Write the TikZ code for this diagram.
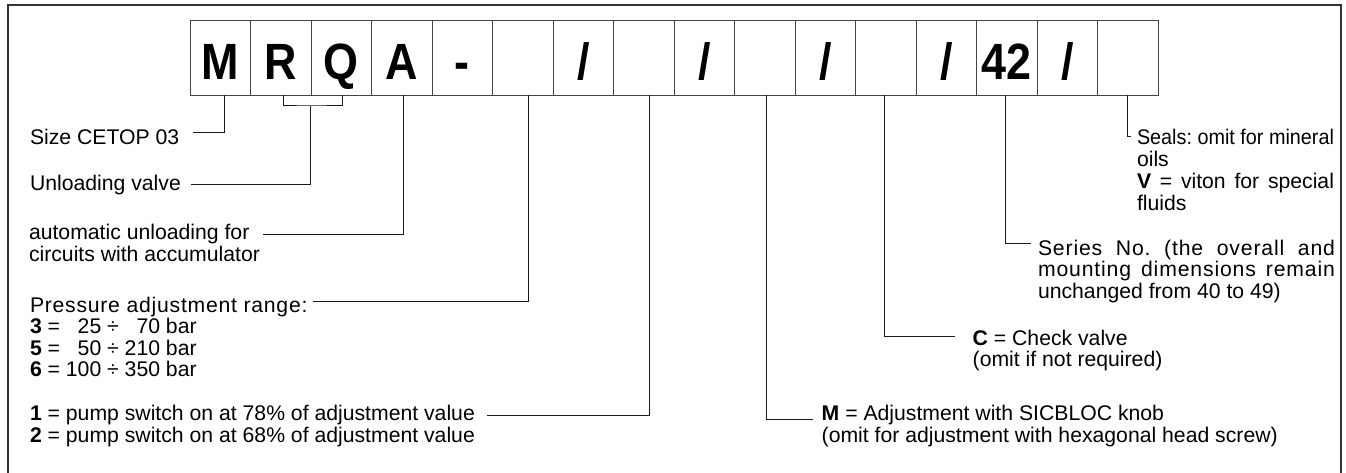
\documentclass[tikz,border=0pt]{standalone}
\usepackage{fontspec}
\usepackage{graphicx}
\setmainfont{Liberation Sans}
\frenchspacing
\definecolor{framecol}{HTML}{333333}
\definecolor{boxcol}{HTML}{444444}
\definecolor{linecol}{HTML}{1A1A1A}
\begin{document}
\begin{tikzpicture}[x=1pt,y=-1pt,
  codebox/.style={draw=boxcol,line width=0.9pt,minimum width=60.5pt,minimum height=75pt,
    inner sep=0pt,outer sep=0pt,text height=45pt,text depth=0pt,
    font=\fontsize{51}{51}\selectfont\bfseries},
  lbl/.style={anchor=base west,inner sep=0pt,outer sep=0pt,font=\fontsize{21.2}{21.7}\selectfont},
  conn/.style={draw=linecol,line width=1pt},
  frame/.style={draw=framecol,line width=1.4pt}]
\useasboundingbox (0,0) rectangle (1346,473);
\clip (0,0) rectangle (1346,473);
\fill[white] (0,0) rectangle (1346,473);
% outer frame (bottom edge lies outside the picture)
\draw[frame] (8,490) -- (8,5) -- (1341,5) -- (1341,490);
% code boxes
\foreach \t [count=\i] in {M,R,Q,A,-,{},/,{},/,{},/,{},/,42,/,{}}{
  \node[codebox] (b\i) at ({220.25+60.5*(\i-1)},57.5) {\scalebox{0.88}[1]{\t}};
}
% labels, left side
\node[lbl] (size) at (30,145) {Size CETOP 03};
\node[lbl] (unl) at (30,191) {Unloading valve};
\node[lbl] (aut1) at (29,239.3) {automatic unloading for};
\node[lbl] (aut2) at (29,261) {circuits with accumulator};
\node[lbl] (pr0) at (30,312) {{\addfontfeature{LetterSpace=3.5}Pressure adjustment range:}};
\node[lbl] (pr3) at (30,333.5) {\textbf{3} = \phantom{1}25 ÷ \phantom{3}70 bar};
\node[lbl] (pr5) at (30,355) {\textbf{5} = \phantom{1}50 ÷ 210 bar};
\node[lbl] (pr6) at (30,376.6) {\textbf{6} = 100 ÷ 350 bar};
\node[lbl] (p1) at (30,420.3) {\textbf{1} = pump switch on at 78\% of adjustment value};
\node[lbl] (p2) at (30,442) {\textbf{2} = pump switch on at 68\% of adjustment value};
% labels, right side
\node[lbl] (m1) at (821.7,420.8) {\textbf{M} = Adjustment with SICBLOC knob};
\node[lbl] (m2) at (821.7,442) {(omit for adjustment with hexagonal head screw)};
\node[lbl] (c1) at (972.7,345) {\textbf{C} = Check valve};
\node[lbl] (c2) at (972.7,366.7) {(omit if not required)};
\node[lbl] (s1) at (1038,255) {{\addfontfeature{LetterSpace=4}\makebox[297pt][s]{Series No. (the overall and}}};
\node[lbl] (s2) at (1038,276.7) {{\addfontfeature{LetterSpace=4}\makebox[297pt][s]{mounting dimensions remain}}};
\node[lbl] (s3) at (1038,298.4) {unchanged from 40 to 49)};
\node[lbl] (e1) at (1137,145) {\resizebox{197pt}{\height}{Seals: omit for mineral}};
\node[lbl] (e2) at (1137,166.7) {oils};
\node[lbl] (e3) at (1137,188.4) {\makebox[197pt][s]{\textbf{V} = viton for special}};
\node[lbl] (e4) at (1137,210.1) {fluids};
% connector end points
\coordinate (k1) at (193,132.7);
\coordinate (k2) at (190.7,185);
\coordinate (kq) at (310.5,106);
\coordinate (k3) at (263,234);
\coordinate (k4) at (313,301.7);
\coordinate (k5) at (487,415.7);
\coordinate (k6) at (812.7,419);
\coordinate (k7) at (955,336.7);
\coordinate (k8) at (1030.7,243.3);
\coordinate (k9) at (1131,136.7);
% connectors
\draw[conn] ([xshift=3.75pt]b1.south) |- (k1);
\draw[conn] ([xshift=2.5pt]b2.south) |- (kq) -| ([xshift=1pt]b3.south);
\draw[conn] (kq) |- (k2);
\draw[conn] ([xshift=1.75pt]b4.south) |- (k3);
\draw[conn] ([xshift=5.25pt]b6.south) |- (k4);
\draw[conn] ([xshift=5.25pt]b8.south) |- (k5);
\draw[conn] ([xshift=1.25pt]b10.south) |- (k6);
\draw[conn] ([xshift=-1.75pt]b12.south) |- (k7);
\draw[conn] ([xshift=-1.25pt]b14.south) |- (k8);
\draw[conn] ([xshift=-0.5pt]b16.south) |- (k9);
\end{tikzpicture}
\end{document}
